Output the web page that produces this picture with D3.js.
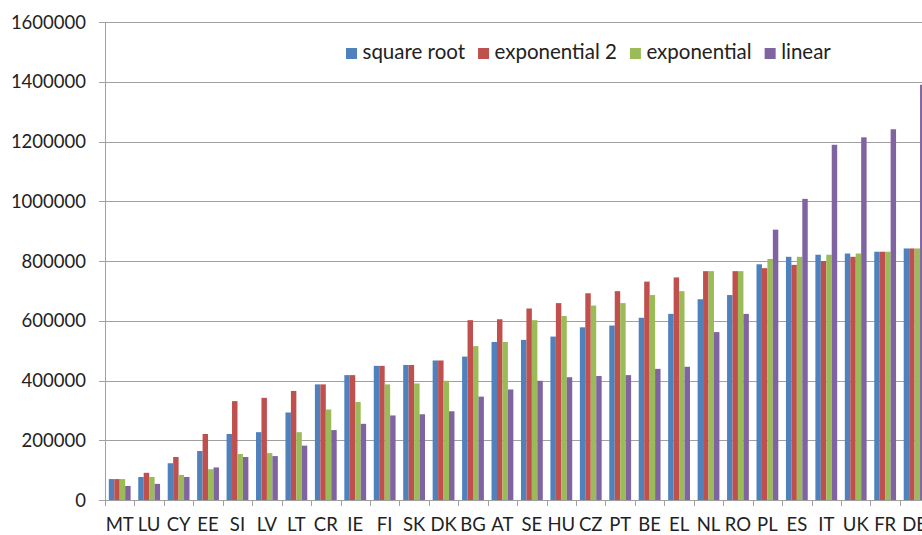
<!DOCTYPE html>
<html>
<head>
<meta charset="utf-8">
<script src="https://cdn.jsdelivr.net/npm/d3@7/dist/d3.min.js"></script>
<style>
  html, body { margin: 0; padding: 0; background: #fff; overflow: hidden; }
  svg { display: block; }
  text { font-family: Lato, "Open Sans", sans-serif; fill: #222; }
</style>
</head>
<body>
<svg id="chart" width="922" height="535"></svg>
<script>
const categories = ["MT","LU","CY","EE","SI","LV","LT","CR","IE","FI","SK","DK","BG","AT","SE","HU","CZ","PT","BE","EL","NL","RO","PL","ES","IT","UK","FR","DE"];
const seriesNames = ["square root","exponential 2","exponential","linear"];
const seriesColors = ["#4F81BD","#C0504D","#9BBB59","#8064A2"];
const squareRoot   = [70000,77000,123000,164000,221000,227000,293000,387000,418000,449000,452000,467000,480000,529000,536000,547000,578000,584000,610000,623000,672000,686000,789000,814000,821000,825000,831000,842000];
const exponential2 = [70000,91000,144000,221000,331000,342000,365000,387000,418000,449000,452000,467000,602000,605000,641000,659000,692000,699000,731000,745000,766000,766000,776000,787000,800000,814000,831000,842000];
const exponential  = [70000,77000,84000,103000,154000,157000,227000,303000,328000,387000,390000,399000,515000,529000,602000,616000,651000,659000,686000,699000,766000,766000,807000,814000,821000,825000,831000,842000];
const linear       = [47000,54000,77000,109000,144000,147000,182000,234000,255000,283000,287000,297000,346000,370000,399000,411000,415000,418000,439000,446000,562000,623000,905000,1008000,1189000,1214000,1241000,1390000];
const yTicks = [0,200000,400000,600000,800000,1000000,1200000,1400000,1600000];

const seriesValues = [squareRoot, exponential2, exponential, linear];

const svg = d3.select("#chart");
const plotLeft = 105, plotTop = 22, plotBottom = 500;
const step = 29.44;
const plotRight = plotLeft + step * categories.length;

const x = d3.scaleBand().domain(categories).range([plotLeft, plotRight]).paddingInner(0).paddingOuter(0);
const xs = d3.scaleBand().domain(seriesNames).range([0, x.bandwidth()]).paddingInner(0).paddingOuter(0.7);
const y = d3.scaleLinear().domain([0, 1600000]).range([plotBottom, plotTop]);

const gridColor = "#a0a0a0";

// gridlines + y ticks
svg.append("g").selectAll("line").data(yTicks).join("line")
  .attr("x1", plotLeft - 6).attr("x2", 922)
  .attr("y1", d => Math.round(y(d)) + 0.5).attr("y2", d => Math.round(y(d)) + 0.5)
  .attr("stroke", gridColor).attr("stroke-width", 1);

// y labels
svg.append("g").selectAll("text").data(yTicks).join("text")
  .attr("x", 86).attr("y", d => y(d) + 6.5)
  .attr("text-anchor", "end").attr("font-size", 18.5)
  .text(d => d);

// bars
const groups = svg.append("g").selectAll("g").data(categories).join("g")
  .attr("transform", d => `translate(${x(d)},0)`);
groups.selectAll("rect")
  .data((c, i) => seriesNames.map((s, k) => ({ s, k, v: seriesValues[k][i] })))
  .join("rect")
  .attr("x", d => xs(d.s))
  .attr("width", xs.bandwidth())
  .attr("y", d => y(d.v))
  .attr("height", d => y(0) - y(d.v))
  .attr("fill", d => seriesColors[d.k]);

// y axis line
svg.append("line").attr("x1", plotLeft + 0.5).attr("x2", plotLeft + 0.5)
  .attr("y1", plotTop).attr("y2", plotBottom + 6).attr("stroke", gridColor);
// x axis line
svg.append("line").attr("x1", plotLeft - 6).attr("x2", 922)
  .attr("y1", plotBottom + 0.5).attr("y2", plotBottom + 0.5).attr("stroke", gridColor);
// x ticks at category boundaries
const bounds = categories.map(c => x(c)).concat([plotRight]);
svg.append("g").selectAll("line").data(bounds).join("line")
  .attr("x1", d => Math.round(d) + 0.5).attr("x2", d => Math.round(d) + 0.5)
  .attr("y1", plotBottom).attr("y2", plotBottom + 6).attr("stroke", gridColor);

// x labels
svg.append("g").selectAll("text").data(categories).join("text")
  .attr("x", d => x(d) + x.bandwidth() / 2).attr("y", 531)
  .attr("text-anchor", "middle").attr("font-size", 18.5)
  .text(d => d);

// legend
const legend = svg.append("g");
let lx = 346;
seriesNames.forEach((name, k) => {
  legend.append("rect").attr("x", lx).attr("y", 48).attr("width", 11).attr("height", 11).attr("fill", seriesColors[k]);
  const t = legend.append("text").attr("x", lx + 16.5).attr("y", 58.5).attr("font-size", 20.5).text(name);
  lx += 16.5 + t.node().getComputedTextLength() + 13;
});
</script>
</body>
</html>
